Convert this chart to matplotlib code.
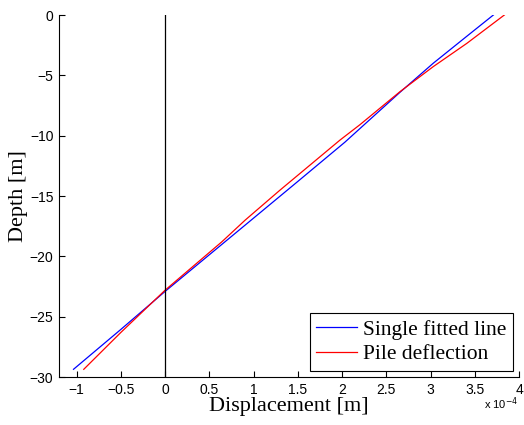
import matplotlib
matplotlib.use("Agg")
import matplotlib.pyplot as plt
import numpy as np

# Data (displacement in units of 1e-4 m, depth in m)
fit_x = [-1.036, -0.5, 0.0, 0.98, 1.49, 2.03, 2.655, 3.03, 3.41, 3.71]
fit_depth = [-29.36, -26.05, -22.9, -16.95, -13.85, -10.55, -6.4, -4.0, -1.76, 0.0]
pile_x = [-0.92, -0.5, 0.0, 0.64, 0.904, 1.3, 1.977, 2.2, 2.655, 3.03, 3.41, 3.834]
pile_depth = [-29.36, -26.3, -22.8, -18.8, -17.0, -14.5, -10.36, -9.1, -6.35, -4.28, -2.35, 0.0]
xticks = [-1, -0.5, 0, 0.5, 1, 1.5, 2, 2.5, 3, 3.5, 4]
yticks = [0, -5, -10, -15, -20, -25, -30]

fig = plt.figure(figsize=(5.24, 4.25), dpi=100)
ax = fig.add_axes([0.1126, 0.1129, 0.8779, 0.8518])

ax.plot(fit_x, fit_depth, color='#0000ff', lw=0.9, label='Single fitted line')
ax.plot(pile_x, pile_depth, color='#ff0000', lw=0.9, label='Pile deflection')
ax.axvline(0, color='black', lw=0.9)

ax.set_xlim(-1.2, 4)
ax.set_ylim(-30, 0)
ax.set_xticks(xticks)
ax.set_xticklabels(['\u22121', '\u22120.5', '0', '0.5', '1', '1.5', '2', '2.5', '3', '3.5', '4'])
ax.set_yticks(yticks)
ax.set_yticklabels(['0', '\u22125', '\u221210', '\u221215', '\u221220', '\u221225', '\u221230'])
ax.tick_params(direction='in', length=4, width=0.8, labelsize=10, pad=4)
for lab in ax.get_xticklabels() + ax.get_yticklabels():
    lab.set_family('Liberation Sans')
ax.spines['top'].set_visible(False)
ax.spines['right'].set_visible(False)
ax.spines['left'].set_linewidth(0.8)
ax.spines['bottom'].set_linewidth(0.8)

ax.set_xlabel('Displacement [m]', family='Liberation Serif', fontsize=16, labelpad=0)
ax.set_ylabel('Depth [m]', family='Liberation Serif', fontsize=16, labelpad=1)

fig.text(0.988, 0.030, r'x 10$^{-4}$', ha='right', va='bottom', fontsize=8,
         family='Liberation Sans')

leg = ax.legend(loc='lower right', prop={'family': 'Liberation Serif', 'size': 15.5},
                fancybox=False, edgecolor='black', framealpha=1,
                borderpad=0.3, labelspacing=0.2, handlelength=1.9,
                handletextpad=0.27, borderaxespad=0.3)
leg.get_frame().set_linewidth(0.8)

fig.savefig('out.png', dpi=100)
